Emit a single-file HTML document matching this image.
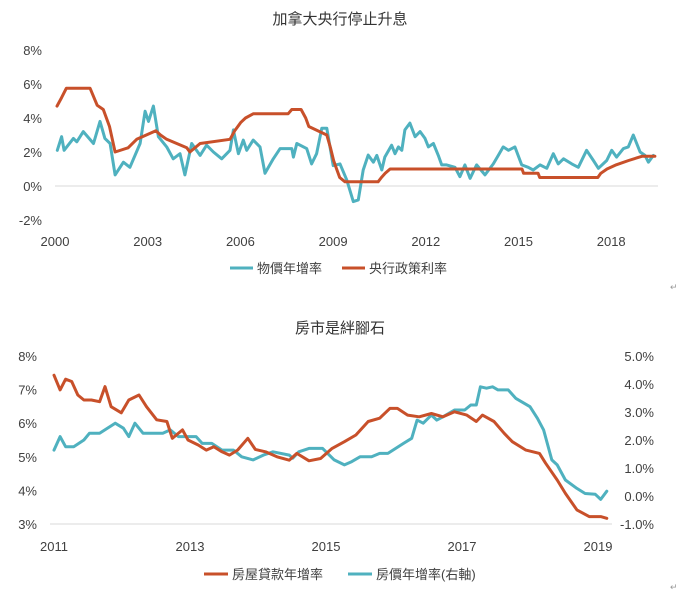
<!DOCTYPE html>
<html><head><meta charset="utf-8"><style>
html,body{margin:0;padding:0;background:#fff;}
svg{display:block;font-family:"Liberation Sans","Noto Sans CJK TC",sans-serif;}
</style></head><body>
<svg id="c" width="680" height="591" viewBox="0 0 680 591" xmlns="http://www.w3.org/2000/svg">
<text x="340" y="24" text-anchor="middle" font-size="15" fill="#333" font-family="'Liberation Sans','Noto Sans CJK TC',sans-serif">加拿大央行停止升息</text>
<text x="340" y="333" text-anchor="middle" font-size="15" fill="#333" font-family="'Liberation Sans','Noto Sans CJK TC',sans-serif">房市是絆腳石</text>
<g>
<line x1="230" y1="268" x2="253" y2="268" stroke="#4fb1bf" stroke-width="3"/>
<text x="257" y="273" font-size="13" fill="#404040">物價年增率</text>
<line x1="342" y1="268" x2="365" y2="268" stroke="#c8502a" stroke-width="3"/>
<text x="369" y="273" font-size="13" fill="#404040">央行政策利率</text>
</g>
<g>
<line x1="204" y1="574" x2="228" y2="574" stroke="#c8502a" stroke-width="3"/>
<text x="232" y="579" font-size="13" fill="#404040">房屋貸款年增率</text>
<line x1="348" y1="574" x2="372" y2="574" stroke="#4fb1bf" stroke-width="3"/>
<text x="376" y="579" font-size="13" fill="#404040">房價年增率(右軸)</text>
</g>
<text x="670" y="290" font-size="9" fill="#999">↵</text>
<text x="670" y="590" font-size="9" fill="#999">↵</text>
</svg>
<script>
// ---- top chart data ----
const topYTicks = [8, 6, 4, 2, 0, -2];
const topXTicks = [2000, 2003, 2006, 2009, 2012, 2015, 2018];
const rateDates = [2000.0,2000.15,2000.3,2001.07,2001.3,2001.5,2001.7,2001.88,2002.3,2002.58,2003.2,2003.35,2003.55,2004.2,2004.3,2004.63,2005.6,2005.75,2005.95,2006.1,2006.35,2007.48,2007.6,2007.9,2008.05,2008.15,2008.73,2008.85,2008.95,2009.05,2009.15,2009.32,2010.39,2010.5,2010.62,2010.78,2015.05,2015.1,2015.57,2015.62,2017.5,2017.6,2017.8,2018.1,2018.5,2018.93,2019.35];
const rateValues = [4.7,5.2,5.75,5.75,4.75,4.5,3.5,2.0,2.25,2.75,3.25,3.0,2.75,2.25,2.0,2.5,2.75,3.25,3.75,4.0,4.25,4.25,4.5,4.5,4.0,3.5,3.0,2.25,1.5,1.0,0.5,0.25,0.25,0.5,0.75,1.0,1.0,0.75,0.75,0.5,0.5,0.75,1.0,1.25,1.5,1.75,1.75];
const cpiDates = [2000.01,2000.15,2000.23,2000.53,2000.64,2000.85,2001.18,2001.39,2001.55,2001.72,2001.88,2002.15,2002.36,2002.69,2002.85,2002.96,2003.12,2003.28,2003.55,2003.76,2003.98,2004.14,2004.36,2004.63,2004.84,2005.06,2005.33,2005.6,2005.71,2005.87,2006.03,2006.14,2006.35,2006.57,2006.73,2007.0,2007.22,2007.6,2007.65,2007.76,2008.08,2008.24,2008.4,2008.57,2008.73,2008.94,2009.16,2009.38,2009.59,2009.75,2009.91,2010.07,2010.24,2010.35,2010.51,2010.61,2010.83,2010.94,2011.05,2011.16,2011.26,2011.42,2011.59,2011.75,2011.91,2012.02,2012.18,2012.34,2012.45,2012.61,2012.88,2013.04,2013.2,2013.37,2013.58,2013.85,2014.12,2014.28,2014.44,2014.61,2014.82,2015.04,2015.25,2015.41,2015.63,2015.85,2016.06,2016.22,2016.39,2016.66,2016.87,2017.14,2017.36,2017.52,2017.79,2017.95,2018.11,2018.33,2018.49,2018.65,2018.87,2019.03,2019.14,2019.3];
const cpiValues = [2.1,2.9,2.1,2.8,2.6,3.2,2.5,3.8,2.8,2.5,0.65,1.4,1.1,2.5,4.4,3.8,4.7,2.9,2.3,1.6,1.9,0.65,2.5,1.8,2.4,2.0,1.6,2.1,3.3,1.9,2.7,2.1,2.7,2.3,0.75,1.6,2.2,2.2,1.7,2.5,2.2,1.3,1.9,3.4,3.4,1.2,1.3,0.35,-0.92,-0.82,0.94,1.82,1.4,1.8,0.94,1.7,2.4,1.9,2.3,2.1,3.3,3.7,2.9,3.2,2.8,2.3,2.5,1.8,1.24,1.24,1.1,0.55,1.24,0.45,1.24,0.65,1.3,1.8,2.3,2.1,2.3,1.24,1.1,0.94,1.24,1.04,1.9,1.3,1.6,1.3,1.1,2.1,1.5,1.04,1.5,2.1,1.7,2.2,2.3,3.0,2.0,1.8,1.4,1.8];
// ---- bottom chart data ----
const leftTicks = [8, 7, 6, 5, 4, 3];
const rightTicks = [5.0, 4.0, 3.0, 2.0, 1.0, 0.0, -1.0];
const botXTicks = [2011, 2013, 2015, 2017, 2019];
const mortDates = [2011.0,2011.09,2011.17,2011.26,2011.35,2011.44,2011.55,2011.67,2011.75,2011.84,2011.99,2012.1,2012.25,2012.36,2012.51,2012.66,2012.74,2012.89,2012.97,2013.12,2013.24,2013.35,2013.47,2013.58,2013.7,2013.85,2013.96,2014.11,2014.28,2014.46,2014.57,2014.75,2014.92,2015.09,2015.27,2015.44,2015.62,2015.79,2015.94,2016.05,2016.2,2016.37,2016.55,2016.72,2016.89,2017.07,2017.21,2017.3,2017.47,2017.62,2017.74,2017.94,2018.14,2018.23,2018.4,2018.52,2018.69,2018.87,2019.04,2019.13];
const mortValues = [7.43,6.99,7.31,7.24,6.84,6.69,6.69,6.64,7.09,6.49,6.31,6.69,6.84,6.49,6.10,6.05,5.55,5.80,5.50,5.35,5.20,5.30,5.15,5.05,5.20,5.55,5.22,5.15,5.00,4.90,5.10,4.88,4.95,5.25,5.45,5.65,6.05,6.15,6.44,6.44,6.24,6.19,6.29,6.19,6.34,6.24,6.05,6.24,6.05,5.70,5.45,5.20,5.10,4.81,4.31,3.91,3.42,3.22,3.22,3.17];
const hpDates = [2011.0,2011.09,2011.17,2011.29,2011.44,2011.52,2011.67,2011.9,2012.02,2012.1,2012.19,2012.31,2012.6,2012.71,2012.83,2013.09,2013.18,2013.32,2013.47,2013.64,2013.76,2013.93,2014.08,2014.22,2014.46,2014.51,2014.6,2014.75,2014.95,2015.12,2015.27,2015.38,2015.5,2015.67,2015.79,2015.91,2016.14,2016.26,2016.34,2016.43,2016.55,2016.63,2016.72,2016.89,2017.04,2017.13,2017.21,2017.27,2017.36,2017.45,2017.53,2017.68,2017.79,2018.0,2018.11,2018.2,2018.32,2018.4,2018.52,2018.69,2018.81,2018.96,2019.04,2019.13];
const hpValues = [1.64,2.12,1.76,1.76,2.00,2.24,2.24,2.60,2.42,2.12,2.60,2.24,2.24,2.36,2.12,2.12,1.88,1.88,1.64,1.64,1.40,1.29,1.46,1.58,1.46,1.35,1.58,1.70,1.70,1.29,1.11,1.23,1.40,1.40,1.52,1.52,1.88,2.06,2.71,2.60,2.89,2.71,2.83,3.07,3.07,3.25,3.25,3.90,3.85,3.90,3.79,3.79,3.49,3.19,2.77,2.36,1.29,1.11,0.57,0.27,0.09,0.06,-0.12,0.17];

const NS = "http://www.w3.org/2000/svg";
const svg = document.getElementById('c');
const TEAL = "#4fb1bf", ORANGE = "#c8502a", TXT = "#404040";
function mk(tag, attrs){ const e=document.createElementNS(NS,tag); for(const k in attrs) e.setAttribute(k,attrs[k]); svg.appendChild(e); return e; }

// axis functions
const tx = y => 57 + (y - 2000) * 30.9;
const ty = v => 186 - v * 17;
const bx = y => 54 + (y - 2011) * 68;
const byL = v => 524 - (v - 3) * 33.6;
const byR = v => 496 - v * 28;

// top zero gridline
let g = mk('line',{x1:55,x2:658,y1:ty(0),y2:ty(0),stroke:"#d9d9d9","stroke-width":1});


topYTicks.forEach(v=>{
  const t = mk('text',{x:42,y:ty(v)+5,"text-anchor":"end","font-size":13,fill:TXT});
  t.textContent = v + '%';
  
  
});
topXTicks.forEach(y=>{
  const t = mk('text',{x:tx(y)-2,y:246,"text-anchor":"middle","font-size":13,fill:TXT});
  t.textContent = y;
  
  
});
function line(dates, vals, fx, fy, color, name){
  const pts = dates.map((d,i)=>fx(d).toFixed(1)+','+fy(vals[i]).toFixed(1)).join(' ');
  const p = mk('polyline',{points:pts,fill:"none",stroke:color,"stroke-width":3,"stroke-linejoin":"round","stroke-linecap":"round"});
  
  
}
line(cpiDates, cpiValues, tx, ty, TEAL, 'cpi-line');
line(rateDates, rateValues, tx, ty, ORANGE, 'policy-rate-line');

// bottom chart
g = mk('line',{x1:50,x2:612,y1:524,y2:524,stroke:"#d9d9d9","stroke-width":1});


leftTicks.forEach(v=>{
  const t = mk('text',{x:37,y:byL(v)+5,"text-anchor":"end","font-size":13,fill:TXT});
  t.textContent = v + '%';
  
  
});
rightTicks.forEach(v=>{
  const t = mk('text',{x:654,y:byR(v)+5,"text-anchor":"end","font-size":13,fill:TXT});
  t.textContent = v.toFixed(1) + '%';
  
  
});
botXTicks.forEach(y=>{
  const t = mk('text',{x:bx(y),y:551,"text-anchor":"middle","font-size":13,fill:TXT});
  t.textContent = y;
  
  
});
line(hpDates, hpValues, bx, byR, TEAL, 'house-price-line');
line(mortDates, mortValues, bx, byL, ORANGE, 'mortgage-line');
</script>
</body></html>
